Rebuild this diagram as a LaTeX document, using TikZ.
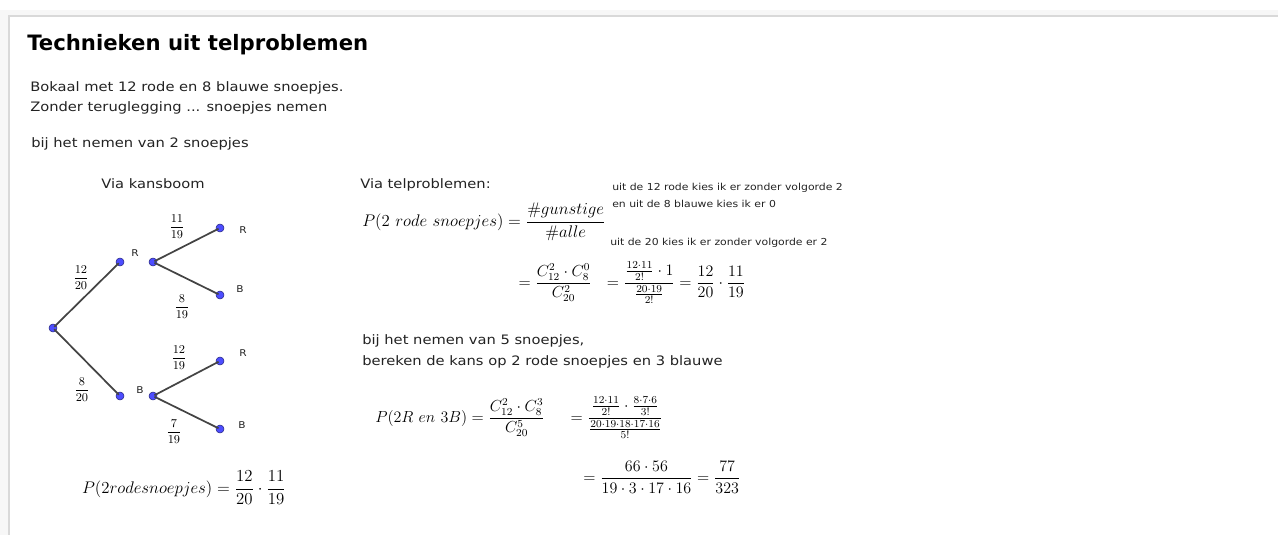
\documentclass[tikz,border=0pt]{standalone}
\usepackage{fix-cm}
\usepackage[no-math]{fontspec}
\usepackage{amsmath}
\usepackage{xcolor}
\usetikzlibrary{positioning}
\newfontfamily\uifont[FakeStretch=1.13]{DejaVu Sans}
\newfontfamily\headfont{DejaVu Sans}
\definecolor{pointblue}{HTML}{4D4DFF}
\definecolor{branchgray}{HTML}{444444}
\definecolor{textgray}{HTML}{222222}

\begin{document}
\begin{tikzpicture}[
    x=0.75pt, y=-0.75pt,
    dot/.style={circle, fill=pointblue, draw=pointblue!50!black, line width=0.4pt, inner sep=0pt, minimum size=6pt},
    branch/.style={draw=branchgray, line width=1.3pt, shorten <=-2pt, shorten >=-2pt},
    leaf/.style={font=\uifont\fontsize{7}{8}\selectfont, text=textgray, inner sep=0pt},
    prob/.style={font=\fontsize{9}{10}\selectfont, inner sep=0pt},
    body/.style={font=\uifont\fontsize{9.75}{12}\selectfont, text=textgray, anchor=base west, inner sep=0pt},
    note/.style={font=\uifont\fontsize{7.2}{8}\selectfont, text=textgray, anchor=base west, inner sep=0pt},
    formula/.style={font=\fontsize{12}{14}\selectfont, inner sep=0pt},
]

% frame
\useasboundingbox (0,0) rectangle (1278,535);
\fill[black!3] (0,10) rectangle (1278,16);
\fill[black!3] (0,10) rectangle (9,535);
\draw[black!15, line width=0.8pt] (9,535) -- (9,16) -- (1278,16);

% header texts
\node[font=\headfont\bfseries\fontsize{15.9}{18}\selectfont, anchor=base west, inner sep=0pt] (title) at (27,51) {Technieken uit telproblemen};
\node[body] (intro1) at (30,92) {Bokaal met 12 rode en 8 blauwe snoepjes.};
\node[body] (intro2) at (30,112) {Zonder teruglegging ... snoepjes nemen};
\node[body] (case2) at (31,147) {bij het nemen van 2 snoepjes};

% tree
\node[body, anchor=base] (treehead) at (153,188) {Via kansboom};
\node[dot] (root) at (53,328) {};
\node[dot] (r1) at (120,262) {};
\node[dot] (r2) at (153,262) {};
\node[dot] (b1) at (120,396) {};
\node[dot] (b2) at (153,396) {};
\node[dot] (rr) at (220,228) {};
\node[dot] (rb) at (220,295) {};
\node[dot] (br) at (220,361) {};
\node[dot] (bb) at (220,429) {};

\draw[branch] (root) -- (r1);
\draw[branch] (root) -- (b1);
\draw[branch] (r2) -- (rr);
\draw[branch] (r2) -- (rb);
\draw[branch] (b2) -- (br);
\draw[branch] (b2) -- (bb);

\node[leaf] (lr1) at (135,253) {R};
\node[leaf] (lb1) at (140,390) {B};
\node[leaf] (lrr) at (243,230) {R};
\node[leaf] (lrb) at (240,289) {B};
\node[leaf] (lbr) at (243,353) {R};
\node[leaf] (lbb) at (242,425) {B};

\node[prob] (p1) at (81,278) {$\dfrac{12}{20}$};
\node[prob] (p2) at (82,390) {$\dfrac{8}{20}$};
\node[prob] (p3) at (177,227) {$\dfrac{11}{19}$};
\node[prob] (p4) at (182,307) {$\dfrac{8}{19}$};
\node[prob] (p5) at (179,358) {$\dfrac{12}{19}$};
\node[prob] (p6) at (174,432) {$\dfrac{7}{19}$};

\node[font=\fontsize{12.6}{14}\selectfont, inner sep=0pt] (treeres) at (184,488) {$P(2rodesnoepjes)=\dfrac{12}{20}\cdot\dfrac{11}{19}$};

% counting
\node[body] (counthead) at (360,188) {Via telproblemen:};
\node[note] (n1) at (612,190) {uit de 12 rode kies ik er zonder volgorde 2};
\node[note] (n2) at (612,207) {en uit de 8 blauwe kies ik er 0};
\node[note] (n3) at (610,245) {uit de 20 kies ik er zonder volgorde er 2};

\node[formula, anchor=west, font=\fontsize{12.6}{14}\selectfont] (f1) at (362,222) {$P(2\ rode\ snoepjes)=\dfrac{\#gunstige}{\#alle}$};
\node[formula] (f2) at (632,283) {$=\dfrac{C_{12}^2\cdot C_8^0}{C_{20}^2}\ \ =\dfrac{\frac{12\cdot 11}{2!}\cdot 1}{\frac{20\cdot 19}{2!}}=\dfrac{12}{20}\cdot\dfrac{11}{19}$};

\node[body] (case5) at (362,344) {bij het nemen van 5 snoepjes,};
\node[body] (ask5) at (362,365) {bereken de kans op 2 rode snoepjes en 3 blauwe};

\node[formula, anchor=west] (f3) at (375,418) {$P(2R\ en\ 3B)=\dfrac{C_{12}^2\cdot C_8^3}{C_{20}^5}\quad\ =\dfrac{\frac{12\cdot 11}{2!}\cdot\frac{8\cdot 7\cdot 6}{3!}}{\frac{20\cdot 19\cdot 18\cdot 17\cdot 16}{5!}}$};
\node[formula] (f4) at (662,477) {$=\dfrac{66\cdot 56}{19\cdot 3\cdot 17\cdot 16}=\dfrac{77}{323}$};

\end{tikzpicture}
\end{document}
